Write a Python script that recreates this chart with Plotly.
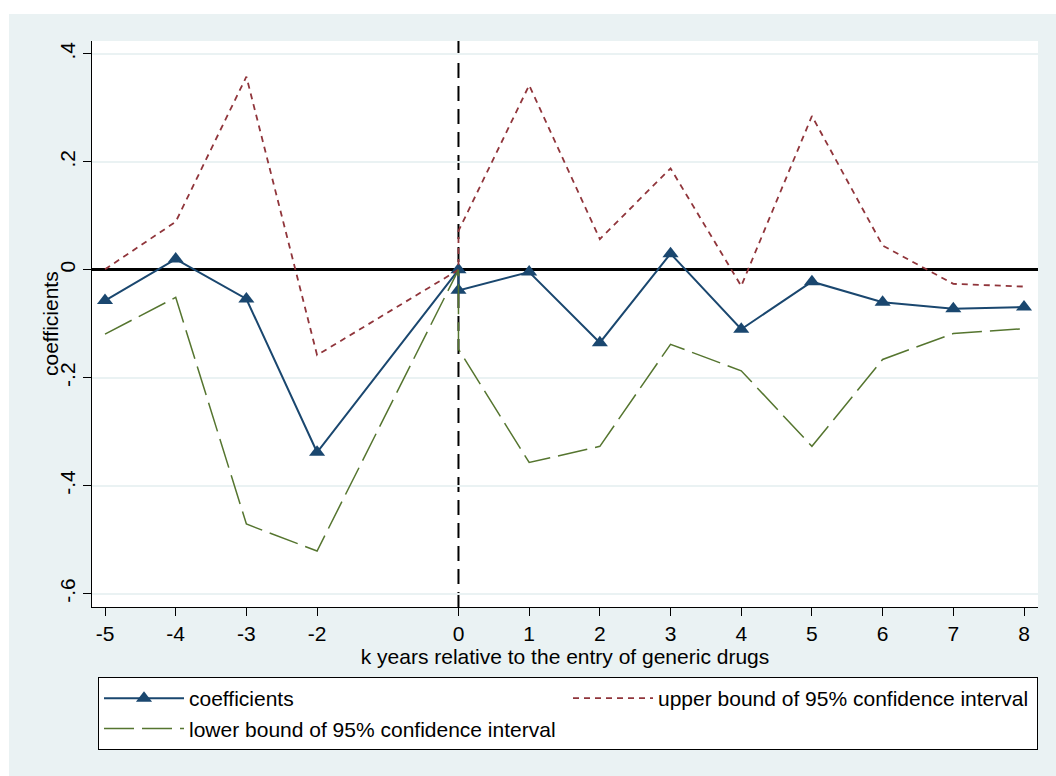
import plotly.graph_objects as go

# Event-study estimates: years relative to generic entry (0 appears twice:
# the omitted reference year and the estimated entry-year effect)
k_years = [-5, -4, -3, -2, 0, 0, 1, 2, 3, 4, 5, 6, 7, 8]
coefficients = [-0.057, 0.020, -0.054, -0.338, 0.0, -0.038, -0.004,
                -0.135, 0.030, -0.110, -0.022, -0.060, -0.072, -0.069]
upper_ci = [0.001, 0.089, 0.358, -0.158, 0.0, 0.072, 0.342,
            0.057, 0.188, -0.030, 0.285, 0.045, -0.026, -0.031]
lower_ci = [-0.119, -0.051, -0.471, -0.521, 0.0, -0.147, -0.357,
            -0.327, -0.138, -0.187, -0.327, -0.166, -0.118, -0.109]

x_ticks = [-5, -4, -3, -2, 0, 1, 2, 3, 4, 5, 6, 7, 8]
x_tick_text = ["-5", "-4", "-3", "-2", "0", "1", "2", "3", "4", "5", "6", "7", "8"]
y_ticks = [-0.6, -0.4, -0.2, 0, 0.2, 0.4]
y_tick_text = ["-.6", "-.4", "-.2", "0", ".2", ".4"]

NAVY = "#1a476f"
MAROON = "#90353b"
GREEN = "#55752f"
REGION = "#eaf2f3"
FONT = "Liberation Sans, Arial, Helvetica, sans-serif"
FS = 21

fig = go.Figure()
fig.add_trace(go.Scatter(
    x=k_years, y=coefficients, name="coefficients", mode="lines+markers",
    line=dict(color=NAVY, width=2),
    marker=dict(symbol="triangle-up", size=14, color=NAVY),
))
fig.add_trace(go.Scatter(
    x=k_years, y=upper_ci, name="upper bound of 95% confidence interval",
    mode="lines", line=dict(color=MAROON, width=1.8, dash="6px,5px"),
))
fig.add_trace(go.Scatter(
    x=k_years, y=lower_ci, name="lower bound of 95% confidence interval",
    mode="lines", line=dict(color=GREEN, width=1.5, dash="30px,8px"),
))

# plot geometry in pixels (used to express the outer region in paper units)
W, H = 1056, 776
L, R, T, B = 92, 18, 41, 169
pw, ph = W - L - R, H - T - B


def px_x(v):
    return (v - L) / pw


def px_y(v):
    return (H - B - v) / ph


fig.update_layout(
    width=W, height=H,
    margin=dict(l=L, r=R, t=T, b=B, pad=0),
    paper_bgcolor="white", plot_bgcolor="white",
    font=dict(family=FONT, size=FS, color="black"),
    showlegend=True,
    legend=dict(
        orientation="h", x=px_x(98), y=px_y(677), xanchor="left", yanchor="top",
        bgcolor="white", bordercolor="black", borderwidth=1,
        itemwidth=80, entrywidthmode="pixels", entrywidth=374,
        font=dict(family=FONT, size=FS, color="black"),
        traceorder="normal",
    ),
    shapes=[
        # light graph region with a thin white page border
        dict(type="rect", xref="paper", yref="paper", layer="below",
             x0=px_x(9), x1=px_x(W + 5), y0=px_y(H + 5), y1=px_y(14),
             fillcolor=REGION, line=dict(width=0)),
        # white plot area
        dict(type="rect", xref="paper", yref="paper", layer="below",
             x0=0, x1=1, y0=0, y1=1, fillcolor="white", line=dict(width=0)),
        # entry of generic drugs
        dict(type="line", xref="x", yref="paper", layer="below",
             x0=0, x1=0, y0=0, y1=1,
             line=dict(color="black", width=2, dash="15px,8px")),
    ],
    annotations=[
        dict(text="coefficients", xref="paper", yref="paper",
             x=px_x(50), y=0.5, xanchor="center", yanchor="middle",
             textangle=-90, showarrow=False, font=dict(size=FS)),
    ],
)

fig.update_xaxes(
    range=[-5.184, 8.198], tickvals=x_ticks, ticktext=x_tick_text,
    ticks="outside", ticklen=8, tickcolor="black", tickwidth=1,
    showline=True, linecolor="black", linewidth=1,
    showgrid=False, zeroline=False,
    tickfont=dict(size=FS),
    title=dict(text="k years relative to the entry of generic drugs",
               font=dict(size=FS), standoff=2),
)
fig.update_yaxes(
    range=[-0.6247, 0.424], tickvals=y_ticks, ticktext=y_tick_text,
    tickangle=-90,
    ticks="outside", ticklen=8, tickcolor="black", tickwidth=1,
    showline=True, linecolor="black", linewidth=1,
    showgrid=True, gridcolor=REGION, gridwidth=1.5,
    zeroline=True, zerolinecolor="black", zerolinewidth=3,
    tickfont=dict(size=FS),
)

fig.write_html("out.html")
